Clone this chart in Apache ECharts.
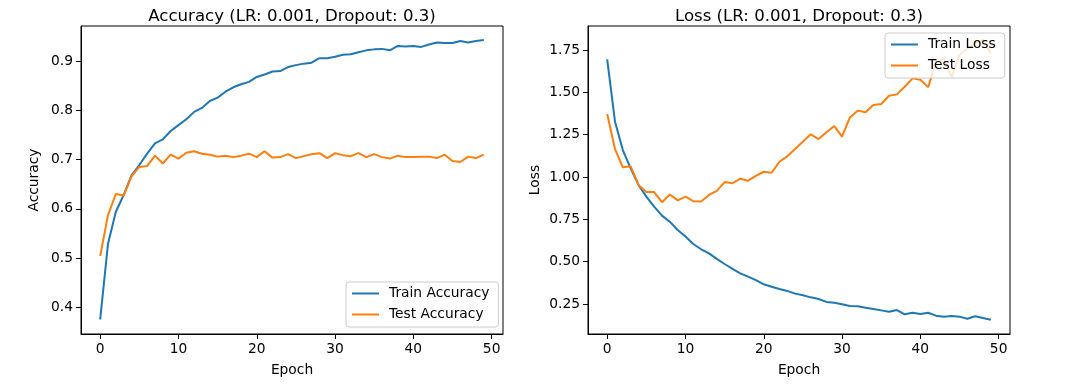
<!DOCTYPE html>
<html>
<head>
<meta charset="utf-8">
<script src="https://cdn.jsdelivr.net/npm/echarts@6/dist/echarts.min.js"></script>
<style>
  html, body { margin: 0; padding: 0; background: #fff; }
  #chart { width: 1065px; height: 386px; }
</style>
</head>
<body>
<div id="chart"></div>
<script>
const trainAccuracy = [
  0.375, 0.529, 0.594, 0.628, 0.668, 0.689, 0.712, 0.733, 0.741, 0.758,
  0.770, 0.782, 0.797, 0.805, 0.819, 0.826, 0.838, 0.847, 0.853, 0.858,
  0.868, 0.873, 0.879, 0.880, 0.888, 0.892, 0.895, 0.897, 0.906, 0.906,
  0.909, 0.913, 0.914, 0.918, 0.922, 0.924, 0.925, 0.922, 0.931, 0.930,
  0.931, 0.929, 0.934, 0.938, 0.937, 0.937, 0.941, 0.938, 0.941, 0.943
];
const testAccuracy = [
  0.504, 0.587, 0.630, 0.627, 0.666, 0.685, 0.687, 0.708, 0.692, 0.710,
  0.702, 0.714, 0.717, 0.712, 0.710, 0.706, 0.708, 0.705, 0.708, 0.712,
  0.705, 0.717, 0.704, 0.705, 0.711, 0.703, 0.707, 0.711, 0.713, 0.703,
  0.713, 0.709, 0.707, 0.713, 0.705, 0.711, 0.705, 0.702, 0.708, 0.705,
  0.705, 0.706, 0.706, 0.703, 0.710, 0.697, 0.695, 0.706, 0.703, 0.710
];
const trainLoss = [
  1.695, 1.327, 1.159, 1.051, 0.953, 0.884, 0.825, 0.772, 0.736, 0.687,
  0.648, 0.604, 0.573, 0.549, 0.516, 0.486, 0.457, 0.431, 0.411, 0.391,
  0.366, 0.352, 0.338, 0.327, 0.311, 0.301, 0.289, 0.279, 0.262, 0.257,
  0.248, 0.238, 0.236, 0.228, 0.220, 0.212, 0.204, 0.214, 0.189, 0.198,
  0.191, 0.198, 0.181, 0.175, 0.179, 0.175, 0.163, 0.177, 0.167, 0.157
];
const testLoss = [
  1.372, 1.165, 1.057, 1.063, 0.953, 0.911, 0.911, 0.851, 0.897, 0.862,
  0.884, 0.857, 0.855, 0.894, 0.918, 0.970, 0.963, 0.990, 0.978, 1.006,
  1.031, 1.025, 1.090, 1.122, 1.165, 1.209, 1.252, 1.224, 1.264, 1.301,
  1.238, 1.352, 1.392, 1.382, 1.425, 1.431, 1.480, 1.488, 1.533, 1.583,
  1.575, 1.531, 1.680, 1.700, 1.590, 1.720, 1.760, 1.790, 1.810, 1.730
];
const xTicks = [0, 10, 20, 30, 40, 50];
const accTicks = [0.4, 0.5, 0.6, 0.7, 0.8, 0.9];
const lossTicks = [0.25, 0.5, 0.75, 1.0, 1.25, 1.5, 1.75];
const titles = ['Accuracy (LR: 0.001, Dropout: 0.3)', 'Loss (LR: 0.001, Dropout: 0.3)'];
const seriesNames = ['Train Accuracy', 'Test Accuracy', 'Train Loss', 'Test Loss'];

const FONT = 'DejaVu Sans';
const FS = 13.8;
const BLUE = '#1f77b4', ORANGE = '#ff7f0e';
const toPairs = arr => arr.map((v, i) => [i, v]);

function xAxisCfg(gridIndex) {
  return {
    type: 'value', gridIndex, min: -2.45, max: 51.45,
    name: 'Epoch', nameLocation: 'middle', nameGap: 29,
    nameTextStyle: { fontFamily: FONT, fontSize: FS, color: '#000' },
    axisLine: { show: true, onZero: false, lineStyle: { color: '#000', width: 1 } },
    axisTick: { show: true, inside: false, length: 5, customValues: xTicks, lineStyle: { color: '#000' } },
    axisLabel: { customValues: xTicks, margin: 8, fontFamily: FONT, fontSize: FS, color: '#000' },
    splitLine: { show: false }
  };
}
function yAxisCfg(gridIndex, min, max, ticks, name, gap, digits) {
  return {
    type: 'value', gridIndex, min, max,
    name, nameLocation: 'middle', nameGap: gap, nameRotate: 90,
    nameTextStyle: { fontFamily: FONT, fontSize: FS, color: '#000' },
    axisLine: { show: true, onZero: false, lineStyle: { color: '#000', width: 1 } },
    axisTick: { show: true, inside: false, length: 5, customValues: ticks, lineStyle: { color: '#000' } },
    axisLabel: { customValues: ticks, margin: 8, fontFamily: FONT, fontSize: FS, color: '#000',
      formatter: v => Number(v).toFixed(digits) },
    splitLine: { show: false }
  };
}
function lineSeries(name, data, color, xi, yi) {
  return {
    name, type: 'line', xAxisIndex: xi, yAxisIndex: yi, data: toPairs(data),
    showSymbol: false, symbol: 'none', smooth: false, animation: false,
    lineStyle: { color, width: 2 }, itemStyle: { color }
  };
}
function legendCfg(names, left, top) {
  return {
    data: names, orient: 'vertical', left, top,
    icon: 'rect', itemWidth: 27, itemHeight: 2, itemGap: 6,
    padding: [4, 9, 5, 6],
    backgroundColor: 'rgba(255,255,255,0.8)', borderColor: '#cccccc', borderWidth: 1, borderRadius: 3,
    textStyle: { fontFamily: FONT, fontSize: FS, color: '#000', lineHeight: 15, padding: [0, 0, 0, 5] },
    selectedMode: false
  };
}

const chart = echarts.init(document.getElementById('chart'), null, { renderer: 'canvas' });
chart.setOption({
  backgroundColor: '#fff',
  animation: false,
  title: [
    { text: titles[0], left: 287, top: 3, textAlign: 'center',
      textStyle: { fontFamily: FONT, fontSize: 16.6, fontWeight: 'normal', color: '#000' } },
    { text: titles[1], left: 794, top: 3, textAlign: 'center',
      textStyle: { fontFamily: FONT, fontSize: 16.6, fontWeight: 'normal', color: '#000' } }
  ],
  grid: [
    { left: 81, top: 26, width: 422, height: 308, show: true, borderColor: '#000', borderWidth: 1, containLabel: false },
    { left: 588, top: 26, width: 422, height: 308, show: true, borderColor: '#000', borderWidth: 1, containLabel: false }
  ],
  xAxis: [xAxisCfg(0), xAxisCfg(1)],
  yAxis: [
    yAxisCfg(0, 0.3455, 0.9715, accTicks, 'Accuracy', 40, 1),
    yAxisCfg(1, 0.0725, 1.892, lossTicks, 'Loss', 46, 2)
  ],
  legend: [
    legendCfg([seriesNames[0], seriesNames[1]], 346, 282),
    legendCfg([seriesNames[2], seriesNames[3]], 885, 33)
  ],
  series: [
    lineSeries(seriesNames[0], trainAccuracy, BLUE, 0, 0),
    lineSeries(seriesNames[1], testAccuracy, ORANGE, 0, 0),
    lineSeries(seriesNames[2], trainLoss, BLUE, 1, 1),
    lineSeries(seriesNames[3], testLoss, ORANGE, 1, 1)
  ]
});
</script>
</body>
</html>
